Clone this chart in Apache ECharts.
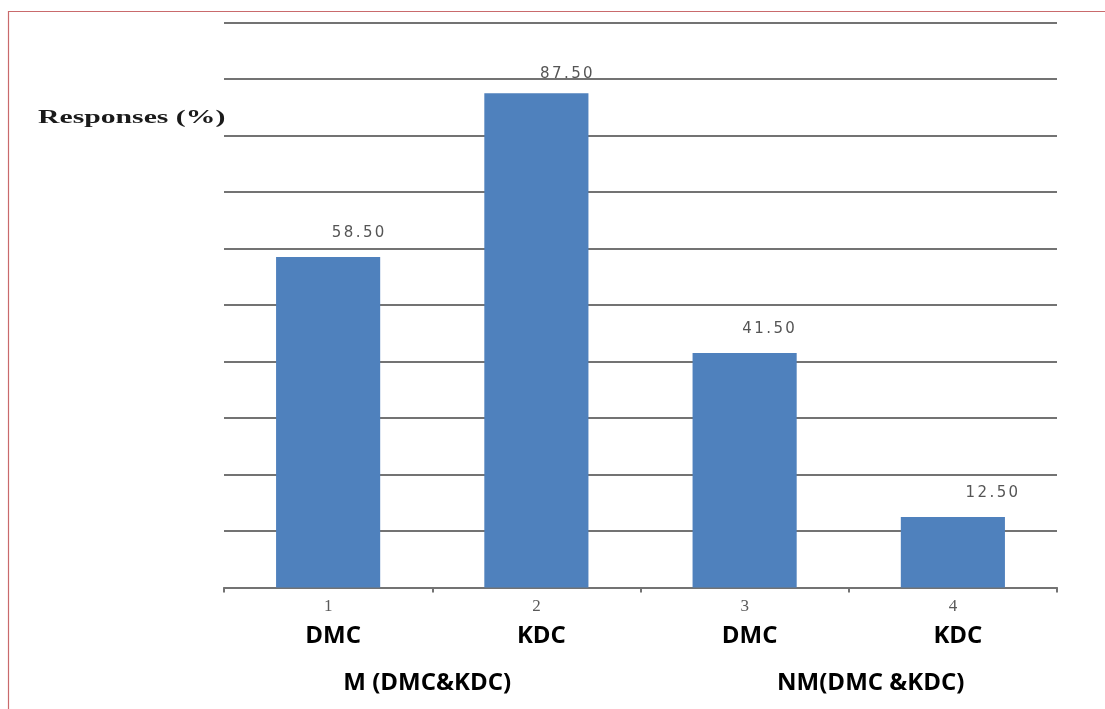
<!DOCTYPE html>
<html>
<head>
<meta charset="utf-8">
<title>Responses (%)</title>
<script src="https://cdn.jsdelivr.net/npm/echarts@6/dist/echarts.min.js"></script>
<style>
  html, body { margin: 0; padding: 0; background: #ffffff; }
  #chart { width: 1105px; height: 709px; }
</style>
</head>
<body>
<div id="chart"></div>
<script>
// Bar numbers, sub-labels and group labels along the category axis
const barNumbers = ['1', '2', '3', '4'];
const centreLabels = ['DMC', 'KDC', 'DMC', 'KDC'];
const groupLabels = ['M (DMC&KDC)', 'NM(DMC &KDC)'];

// Share of responses per bar (%)
const responses = [58.5, 87.5, 41.5, 12.5];

// Value axis range
const yMin = 0;
const yMax = 100;
const yStep = 10;

// Sideways / vertical nudge of each value label (px)
const labelShift = [30, 30, 24, 39];
const labelLift = [-4, 0, -4, -4];

const chart = echarts.init(document.getElementById('chart'), null, { renderer: 'canvas' });

const gridColor = '#737373';
const barColor = '#4F81BD';
const boldSans = '"Open Sans", sans-serif';

const option = {
  animation: false,
  backgroundColor: '#ffffff',
  grid: { left: 224, right: 48, top: 22.5, bottom: 121.5, containLabel: false },
  xAxis: [
    {
      type: 'category',
      data: barNumbers,
      position: 'bottom',
      boundaryGap: true,
      axisLine: { show: true, lineStyle: { color: gridColor, width: 2 } },
      axisTick: { show: true, inside: false, length: 5, lineStyle: { color: gridColor, width: 2 } },
      axisLabel: {
        margin: 11,
        fontFamily: '"Liberation Serif", serif',
        fontSize: 17,
        lineHeight: 17,
        color: '#595959'
      },
      splitLine: { show: false }
    },
    {
      type: 'category',
      data: centreLabels,
      position: 'bottom',
      offset: 0,
      axisLine: { show: false },
      axisTick: { show: false },
      axisLabel: {
        margin: 36,
        lineHeight: 26,
        formatter: (v) => '{c|' + v + '}',
        rich: { c: { fontFamily: boldSans, fontWeight: 'bold', fontSize: 24, lineHeight: 26, color: '#000000', padding: [0, 0, 0, 10] } }
      }
    },
    {
      type: 'category',
      data: groupLabels,
      position: 'bottom',
      offset: 0,
      axisLine: { show: false },
      axisTick: { show: false },
      axisLabel: {
        margin: 83,
        interval: 0,
        lineHeight: 26,
        formatter: (v, i) => '{g' + i + '|' + v + '}',
        rich: {
          g0: { fontFamily: boldSans, fontWeight: 'bold', fontSize: 24, lineHeight: 26, color: '#000000', padding: [0, 10, 0, 0] },
          g1: { fontFamily: boldSans, fontWeight: 'bold', fontSize: 24, lineHeight: 26, color: '#000000', padding: [0, 0, 0, 44] }
        }
      }
    }
  ],
  yAxis: {
    type: 'value',
    min: yMin,
    max: yMax,
    interval: yStep,
    axisLine: { show: false },
    axisTick: { show: false },
    axisLabel: { show: false },
    splitLine: { show: true, lineStyle: { color: gridColor, width: 2 } }
  },
  series: [
    {
      type: 'bar',
      xAxisIndex: 0,
      barWidth: '50%',
      itemStyle: { color: barColor },
      data: responses.map((v, i) => ({
        value: v,
        label: { offset: [labelShift[i], labelLift[i]] }
      })),
      label: {
        show: true,
        position: 'top',
        distance: 12,
        formatter: (p) => p.value.toFixed(2).split('').map((ch) => '{d|' + ch + '}').join(''),
        rich: {
          d: { fontFamily: '"DejaVu Sans", sans-serif', fontSize: 15, color: '#555555', padding: [0, 1.2, 0, 1.2] }
        }
      },
      z: 3
    }
  ],
  graphic: [
    {
      type: 'rect',
      shape: { x: 8.5, y: 11.5, width: 1200, height: 800 },
      style: { fill: 'none', stroke: '#c96a6c', lineWidth: 1.2 },
      silent: true
    },
    {
      type: 'text',
      x: 38,
      y: 118,
      scaleX: 1.65,
      style: {
        text: 'Responses (%)',
        fontFamily: '"Liberation Serif", serif',
        fontWeight: 'bold',
        fontSize: 18,
        fill: '#1a1a1a',
        verticalAlign: 'middle',
        align: 'left'
      },
      silent: true
    }
  ]
};

chart.setOption(option);
</script>
</body>
</html>
